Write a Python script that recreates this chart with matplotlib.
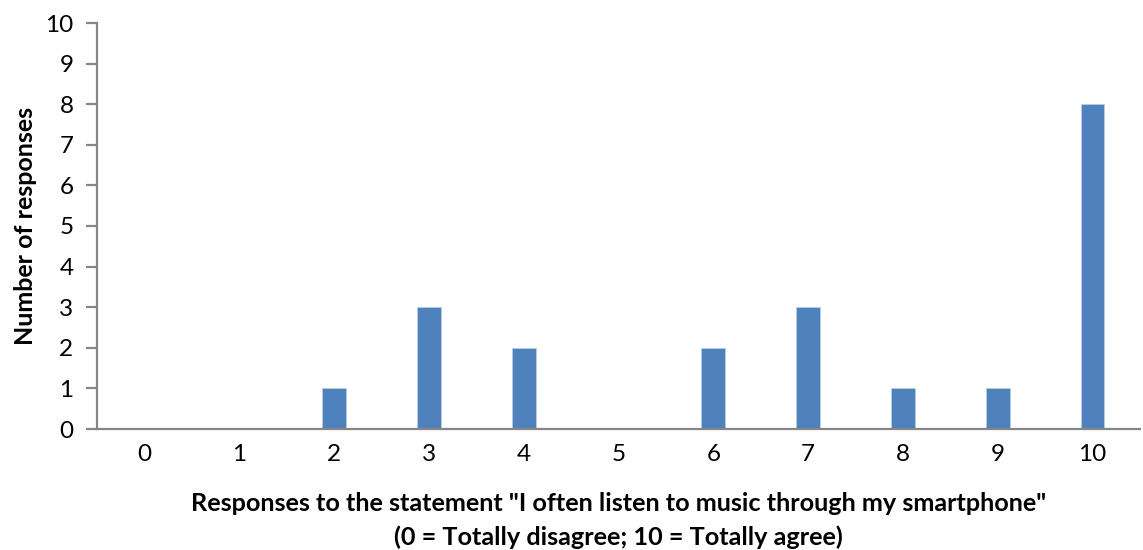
import matplotlib
matplotlib.use("Agg")
import matplotlib.pyplot as plt

plt.rcParams['font.family'] = ['Lato', 'DejaVu Sans']

scores = ["0", "1", "2", "3", "4", "5", "6", "7", "8", "9", "10"]
responses = [0, 0, 1, 3, 2, 0, 2, 3, 1, 1, 8]
y_ticks = list(range(0, 11))

fig = plt.figure(figsize=(11.43, 5.5), dpi=100)
ax = fig.add_axes([97 / 1143, 1 - 429 / 550, (1140 - 97) / 1143, (429 - 23) / 550])

positions = list(range(len(scores)))
ax.bar(positions, responses, width=0.25, color="#4F81BD", edgecolor="#B9CDE5", linewidth=0.6)

ax.set_xlim(-0.5, len(scores) - 0.5)
ax.set_ylim(0, 10)
ax.set_yticks(y_ticks)
ax.set_xticks(positions)
ax.set_xticklabels(scores)

axis_gray = "#868686"
for side in ("top", "right"):
    ax.spines[side].set_visible(False)
for side in ("left", "bottom"):
    ax.spines[side].set_color(axis_gray)
    ax.spines[side].set_linewidth(1.6)

ax.tick_params(axis="y", direction="out", length=8, width=1.6, color=axis_gray,
               labelsize=17.5, pad=9)
ax.tick_params(axis="x", length=0, labelsize=17.5, pad=11)

ax.set_ylabel("Number of responses", fontsize=18, fontweight="bold", labelpad=6)
ax.set_xlabel('Responses to the statement "I often listen to music through my smartphone"\n'
              '(0 = Totally disagree; 10 = Totally agree)',
              fontsize=18.2, fontweight="bold", labelpad=19, linespacing=1.55)

fig.savefig("out.png", dpi=100, facecolor="white")
